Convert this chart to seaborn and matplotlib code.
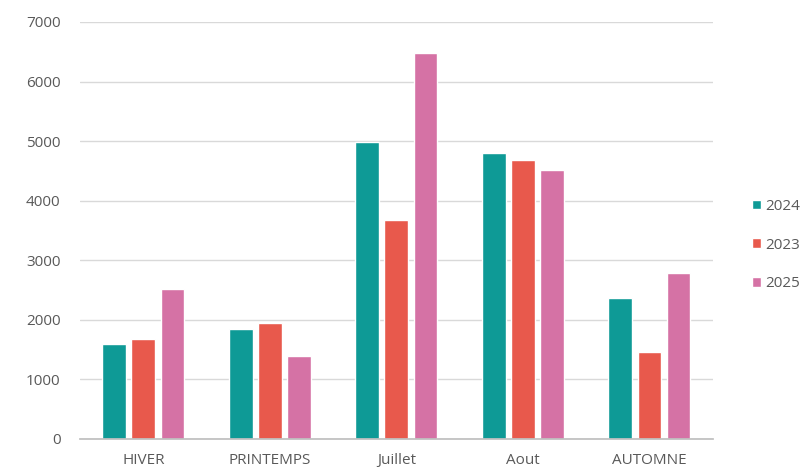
import pandas as pd
import matplotlib.pyplot as plt
import seaborn as sns

# Values
saisons = ['HIVER', 'PRINTEMPS', 'Juillet', 'Aout', 'AUTOMNE']
annees = ['2024', '2023', '2025']
v2024 = [1600, 1850, 4980, 4800, 2360]
v2023 = [1680, 1940, 3680, 4690, 1460]
v2025 = [2520, 1390, 6480, 4510, 2780]

df = pd.DataFrame({
    'Saison': saisons * 3,
    'Annee': ['2024'] * 5 + ['2023'] * 5 + ['2025'] * 5,
    'Valeur': v2024 + v2023 + v2025,
})

couleurs = {'2024': '#0E9A96', '2023': '#E8594C', '2025': '#D572A5'}

sns.set_theme(style='white')
plt.rcParams['font.family'] = ['Open Sans', 'DejaVu Sans']

fig = plt.figure(figsize=(8.09, 4.73), dpi=100)
ax = fig.add_axes([0.099, 0.072, 0.782, 0.8816])

sns.barplot(data=df, x='Saison', y='Valeur', hue='Annee', hue_order=annees,
            palette=couleurs, width=0.69, gap=0.18, saturation=1, ax=ax)

ax.set_ylim(0, 7000)
ax.set_xlim(-0.5, 4.5)
ax.set_yticks(range(0, 7001, 1000))
ax.yaxis.grid(True, color='#D9D9D9', linewidth=1)
ax.set_axisbelow(True)
for s in ['top', 'right', 'left']:
    ax.spines[s].set_visible(False)
ax.spines['bottom'].set_color('#BFBFBF')
ax.set_xlabel('')
ax.set_ylabel('')
ax.tick_params(axis='both', length=0, colors='#595959', labelsize=11)
ax.tick_params(axis='y', pad=14)
ax.tick_params(axis='x', pad=10)

ax.legend(loc='center left', bbox_to_anchor=(1.04, 0.465), frameon=False,
          handlelength=0.6, handleheight=0.6, handletextpad=0.3,
          labelspacing=1.55, fontsize=11, labelcolor='#595959')

fig.savefig('out.png', dpi=100)
